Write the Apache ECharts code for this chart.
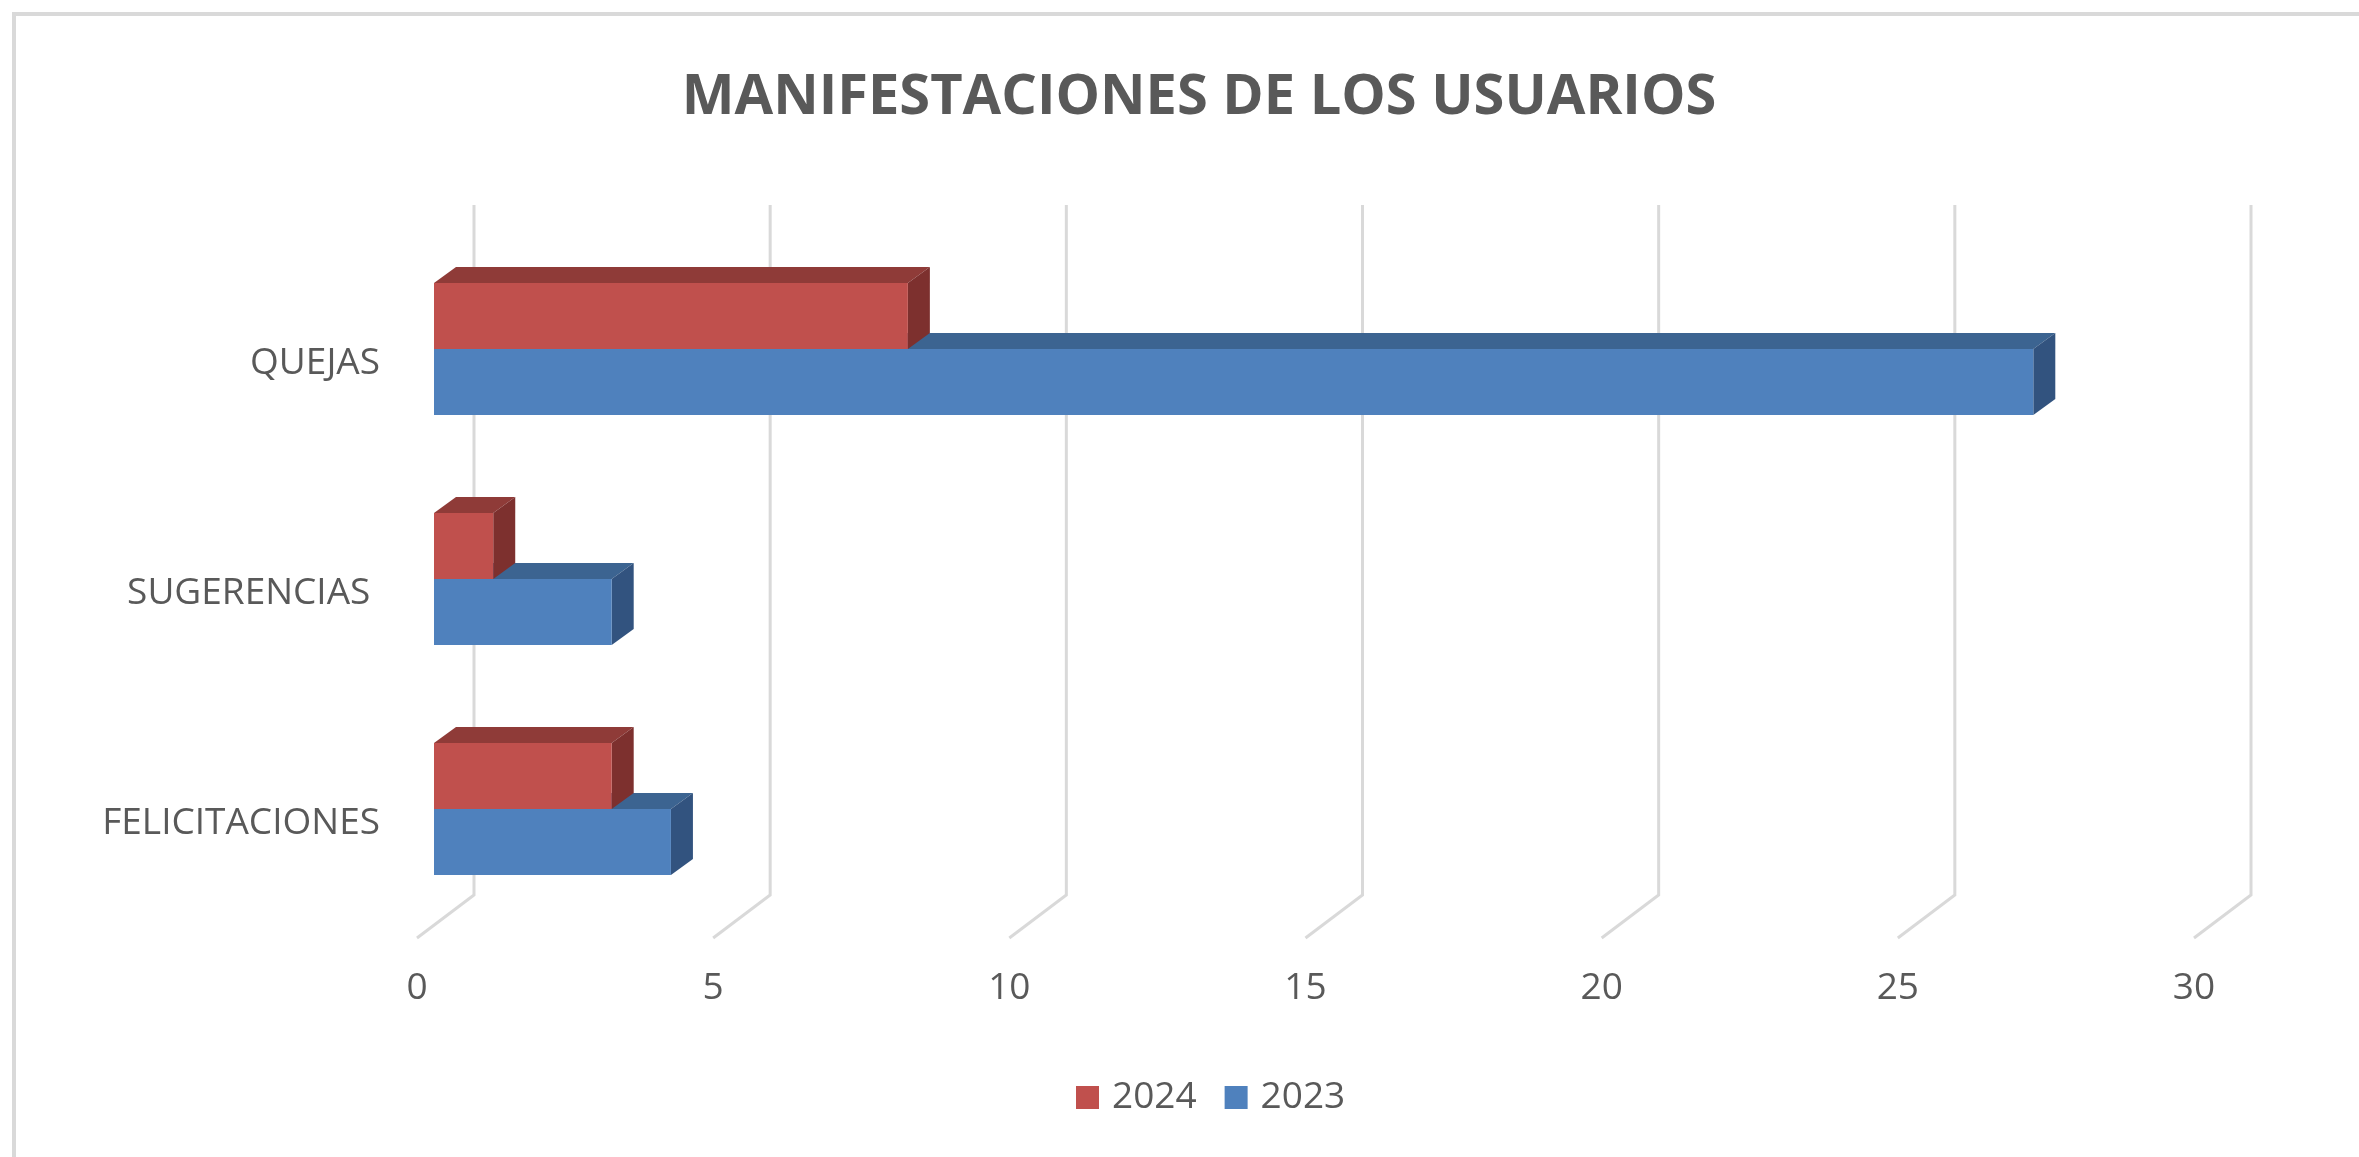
<!DOCTYPE html>
<html>
<head>
<meta charset="utf-8">
<title>Manifestaciones de los usuarios</title>
<script src="https://cdn.jsdelivr.net/npm/echarts@6/dist/echarts.min.js"></script>
<style>
  html, body { margin: 0; padding: 0; background: #fff; }
  #chart { width: 2359px; height: 1157px; }
</style>
</head>
<body>
<div id="chart"></div>
<script>
  // datos del grafico
  const categorias = ['FELICITACIONES', 'SUGERENCIAS ', 'QUEJAS']
  const anios = ['2024', '2023']
  const valores2024 = [3, 1, 8]
  const valores2023 = [4, 3, 27]
  const ticksX = [0, 5, 10, 15, 20, 25, 30]

  const colores = {
    '2024': { front: '#C0504D', top: '#8F3B38', side: '#7D302E' },
    '2023': { front: '#4F81BD', top: '#3C6491', side: '#32537F' }
  }

  // desplazamientos del efecto 3D (px) respecto a la pared del fondo
  const FONDO = [-18, 13]
  const FRENTE = [-40, 29]
  const PISO = [-57, 43]
  const ALTO_BARRA = 0.287 // fraccion de la banda de cada categoria

  const chart = echarts.init(document.getElementById('chart'))

  function mover(p, d) {
    return [p[0] + d[0], p[1] + d[1]]
  }

  function barra3d(serie) {
    return function (params, api) {
      const v = api.value(0)
      const i = api.value(1)
      const base = api.coord([0, i])
      const fin = api.coord([v, i])
      const h = api.size([0, 1])[1] * ALTO_BARRA
      // 2024 arriba, 2023 abajo
      const y0 = serie === '2024' ? base[1] - h : base[1]
      const y1 = y0 + h
      const x0 = base[0]
      const x1 = fin[0]
      const c = colores[serie]
      const ftl = mover([x0, y0], FRENTE)
      const ftr = mover([x1, y0], FRENTE)
      const fbr = mover([x1, y1], FRENTE)
      const btl = mover([x0, y0], FONDO)
      const btr = mover([x1, y0], FONDO)
      const bbr = mover([x1, y1], FONDO)
      return {
        type: 'group',
        children: [
          { type: 'polygon', shape: { points: [ftl, ftr, btr, btl] }, style: { fill: c.top } },
          { type: 'polygon', shape: { points: [ftr, btr, bbr, fbr] }, style: { fill: c.side } },
          { type: 'rect', shape: { x: ftl[0], y: ftl[1], width: x1 - x0, height: h }, style: { fill: c.front } }
        ]
      }
    }
  }

  function rejilla(params, api) {
    const x = api.coord([api.value(0), 0])[0]
    const cs = params.coordSys
    const abajo = cs.y + cs.height
    return {
      type: 'polyline',
      shape: { points: [[x, cs.y], [x, abajo], [x + PISO[0], abajo + PISO[1]]] },
      style: { fill: 'none', stroke: '#D9D9D9', lineWidth: 3 }
    }
  }

  const option = {
    backgroundColor: '#fff',
    animation: false,
    textStyle: { fontFamily: 'Open Sans' },
    title: {
      text: 'MANIFESTACIONES DE LOS USUARIOS',
      left: 1199,
      top: 70,
      padding: 0,
      textAlign: 'center',
      textStyle: { fontSize: 56, fontWeight: 'bold', color: '#595959', fontFamily: 'Open Sans' }
    },
    legend: {
      data: anios,
      left: 1071,
      top: 1074,
      icon: 'rect',
      itemWidth: 23,
      itemHeight: 23,
      itemGap: 28,
      textStyle: { fontSize: 37, color: '#595959', fontFamily: 'Open Sans', padding: [0, 0, 0, 8] }
    },
    graphic: [{
      type: 'rect',
      silent: true,
      z: -1,
      shape: { x: 14, y: 14, width: 2400, height: 1200 },
      style: { fill: 'none', stroke: '#D9D9D9', lineWidth: 4 }
    }],
    grid: [
      { left: 474, top: 205, width: 1777, height: 690 },
      { left: 474 + PISO[0], top: 205 + PISO[1], width: 1777, height: 690 }
    ],
    xAxis: [
      { gridIndex: 0, type: 'value', min: 0, max: 30, interval: 5, show: false },
      {
        gridIndex: 1, type: 'value', min: 0, max: 30, interval: 5,
        axisLine: { show: false },
        axisTick: { show: false },
        splitLine: { show: false },
        axisLabel: { margin: 32, fontSize: 37, color: '#595959', fontFamily: 'Open Sans' }
      }
    ],
    yAxis: [
      { gridIndex: 0, type: 'category', data: categorias, show: false },
      {
        gridIndex: 1, type: 'category', data: categorias,
        axisLine: { show: false },
        axisTick: { show: false },
        axisLabel: { margin: 37, fontSize: 37, color: '#595959', fontFamily: 'Open Sans' }
      }
    ],
    series: [
      {
        type: 'custom',
        name: 'rejilla',
        xAxisIndex: 0,
        yAxisIndex: 0,
        silent: true,
        z: 1,
        renderItem: rejilla,
        data: ticksX.map(t => [t, 0])
      },
      {
        type: 'custom',
        name: '2023',
        xAxisIndex: 0,
        yAxisIndex: 0,
        z: 2,
        itemStyle: { color: colores['2023'].front },
        encode: { x: 0, y: 1 },
        renderItem: barra3d('2023'),
        data: valores2023.map((v, i) => [v, i])
      },
      {
        type: 'custom',
        name: '2024',
        xAxisIndex: 0,
        yAxisIndex: 0,
        z: 3,
        itemStyle: { color: colores['2024'].front },
        encode: { x: 0, y: 1 },
        renderItem: barra3d('2024'),
        data: valores2024.map((v, i) => [v, i])
      }
    ]
  }

  chart.setOption(option)
  window.onresize = function () {
    chart.resize()
  }
</script>
</body>
</html>
